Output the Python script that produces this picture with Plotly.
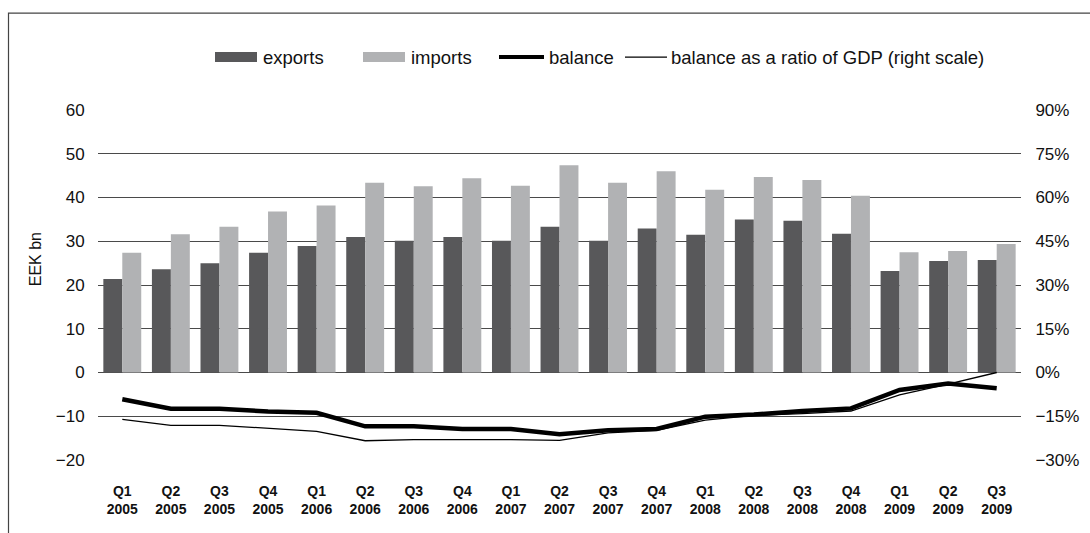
import plotly.graph_objects as go

# Quarterly foreign trade, EEK bn, and the balance relative to GDP
quarters = ["Q1", "Q2", "Q3", "Q4", "Q1", "Q2", "Q3", "Q4", "Q1", "Q2",
            "Q3", "Q4", "Q1", "Q2", "Q3", "Q4", "Q1", "Q2", "Q3"]
years = ["2005", "2005", "2005", "2005", "2006", "2006", "2006", "2006",
         "2007", "2007", "2007", "2007", "2008", "2008", "2008", "2008",
         "2009", "2009", "2009"]
exports = [21.4, 23.6, 25.0, 27.4, 28.9, 31.0, 30.1, 31.0, 30.1, 33.3,
           30.1, 32.9, 31.5, 35.0, 34.7, 31.7, 23.2, 25.5, 25.7]
imports = [27.4, 31.6, 33.3, 36.8, 38.2, 43.4, 42.6, 44.4, 42.7, 47.4,
           43.4, 46.0, 41.8, 44.7, 44.0, 40.4, 27.5, 27.8, 29.4]
balance = [-6.1, -8.3, -8.3, -8.9, -9.2, -12.3, -12.3, -12.9, -12.9, -14.1,
           -13.2, -12.9, -10.1, -9.6, -8.8, -8.2, -4.0, -2.5, -3.6]
balance_gdp = [-16.1, -18.1, -18.1, -19.2, -20.2, -23.4, -23.0, -23.0, -23.0, -23.3,
               -20.7, -19.8, -16.3, -14.7, -14.1, -13.2, -7.7, -4.0, 0.0]

labels = [f"{q}<br>{y}" for q, y in zip(quarters, years)]
cats = [f"{q} {y}" for q, y in zip(quarters, years)]

W, H = 1090, 533
L, R, T, B = 98, 1021, 109.5, 460
FONT = "Liberation Sans, Arial, sans-serif"
DARK = "#58585a"
LIGHT = "#b1b2b4"


def px(xp):
    return (xp - L) / (R - L)


def py(yp):
    return (B - yp) / (B - T)


fig = go.Figure()
fig.add_trace(go.Bar(x=cats, y=exports, name="exports", marker_color=DARK,
                     marker_line_width=0))
fig.add_trace(go.Bar(x=cats, y=imports, name="imports", marker_color=LIGHT,
                     marker_line_width=0))
fig.add_trace(go.Scatter(x=cats, y=balance, name="balance", mode="lines",
                         line=dict(color="#000000", width=4.5)))
fig.add_trace(go.Scatter(x=cats, y=balance_gdp, name="balance as a ratio of GDP (right scale)",
                         mode="lines", yaxis="y2",
                         line=dict(color="#000000", width=1.3)))

shapes = []
annotations = []

# outer frame (top and left edges)
shapes.append(dict(type="path", xref="paper", yref="paper",
                   path=f"M {px(8.5)},{py(560)} L {px(8.5)},{py(12.5)} L {px(1100)},{py(12.5)}",
                   line=dict(color="#444444", width=1.2)))

# legend
leg_y = 56.5
legend_items = [
    ("rect", DARK, 215, 257, 261, "exports"),
    ("rect", LIGHT, 363, 405, 409, "imports"),
    ("thick", "#000", 499, 544, 547, "balance"),
    ("thin", "#000", 625, 667, 669, "balance as a ratio of GDP (right scale)"),
]
for kind, col, x0, x1, tx, text in legend_items:
    if kind == "rect":
        shapes.append(dict(type="rect", xref="paper", yref="paper",
                           x0=px(x0), x1=px(x1), y0=py(leg_y - 5), y1=py(leg_y + 5),
                           fillcolor=col, line=dict(width=0)))
    else:
        shapes.append(dict(type="line", xref="paper", yref="paper",
                           x0=px(x0), x1=px(x1), y0=py(leg_y), y1=py(leg_y),
                           line=dict(color=col, width=4 if kind == "thick" else 1.2)))
    annotations.append(dict(xref="paper", yref="paper", x=px(tx), y=py(leg_y),
                            text=text, showarrow=False, xanchor="left", yanchor="middle",
                            font=dict(family=FONT, size=18.5, color="#111")))

# left axis title
annotations.append(dict(xref="paper", yref="paper", x=px(35), y=py(259), text="EEK bn",
                        textangle=-90, showarrow=False, xanchor="center", yanchor="middle",
                        font=dict(family=FONT, size=16, color="#111")))

fig.update_layout(
    width=W, height=H,
    margin=dict(l=L, r=W - R, t=T, b=H - B, pad=0),
    paper_bgcolor="white", plot_bgcolor="white",
    barmode="group", bargap=0.22, bargroupgap=0,
    showlegend=False,
    font=dict(family=FONT, size=16, color="#111"),
    xaxis=dict(type="category", tickmode="array", tickvals=cats, ticktext=labels,
               showgrid=False, showline=False, zeroline=False,
               ticks="outside", ticklen=18, tickcolor="rgba(0,0,0,0)",
               tickfont=dict(family=FONT, size=14, color="#111", weight="bold")),
    yaxis=dict(range=[-20, 60], dtick=10, showgrid=True, gridcolor="#4a4a4a",
               gridwidth=1, zeroline=False, showline=False,
               ticks="outside", ticklen=9, tickcolor="rgba(0,0,0,0)",
               tickfont=dict(family=FONT, size=17, color="#111")),
    yaxis2=dict(range=[-30, 90], dtick=15, ticksuffix="%", overlaying="y", side="right",
                showgrid=False, zeroline=False, showline=False,
                ticks="outside", ticklen=10, tickcolor="rgba(0,0,0,0)",
                tickfont=dict(family=FONT, size=17, color="#111")),
    shapes=shapes,
    annotations=annotations,
)

fig.write_html("out.html")
